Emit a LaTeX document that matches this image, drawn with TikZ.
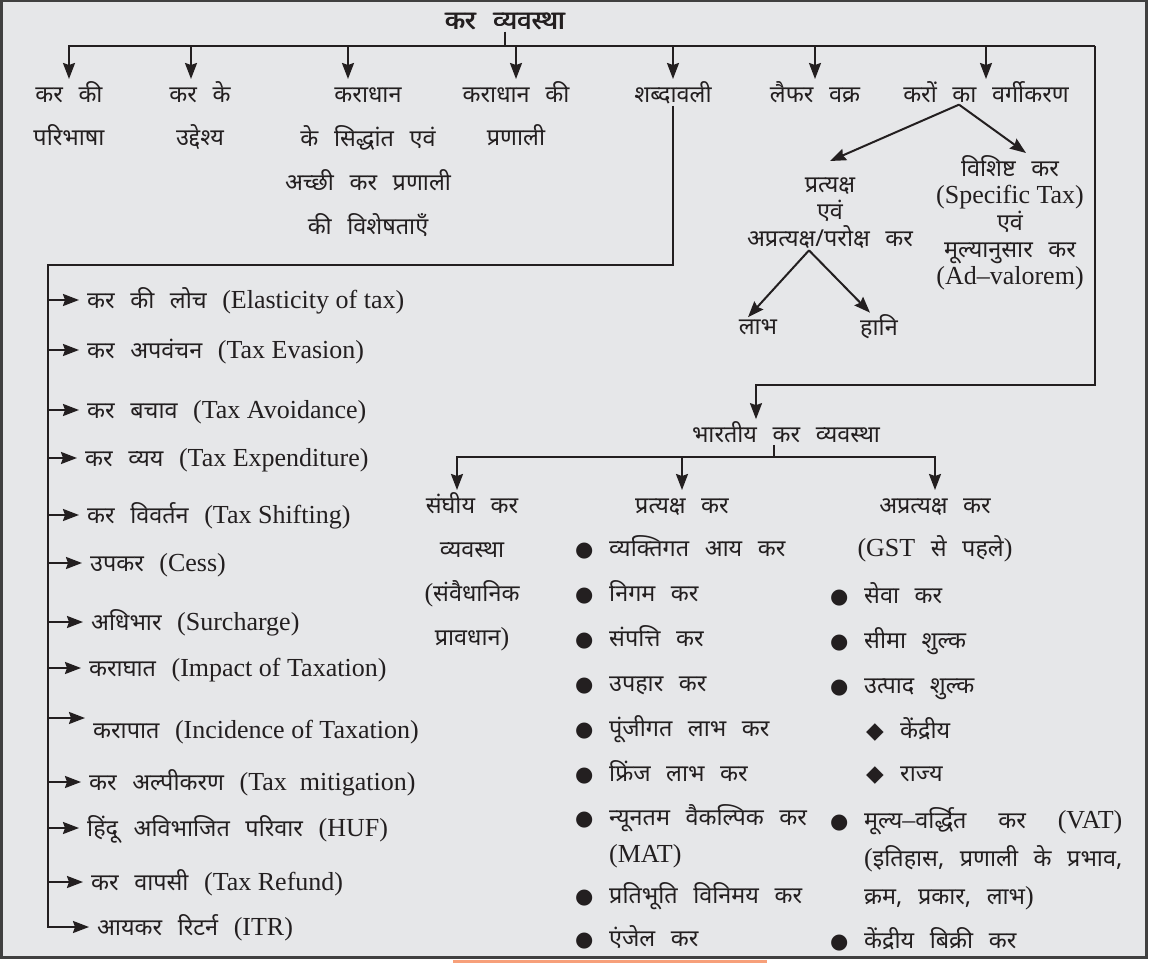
\documentclass[tikz,border=0pt]{standalone}
\usepackage{fontspec}
\setmainfont{Liberation Serif}
\newfontfamily\dev[Script=Devanagari,Scale=0.9,WordSpace=2.56]{Noto Sans}
\newfontfamily\sym{DejaVu Sans}
\usetikzlibrary{arrows.meta}
\definecolor{pagebg}{RGB}{230,231,233}
\definecolor{ink}{RGB}{35,31,32}
\definecolor{stripe}{RGB}{247,160,122}
\newcommand{\en}[1]{{\rmfamily #1}}
\newcommand{\tl}{\vphantom{की}}
\newcommand{\heavy}[1]{\rlap{#1}\kern0.9pt#1}
\newcommand{\blt}{\makebox[34pt][l]{\sym\fontsize{21}{21}\selectfont ●}}
\newcommand{\dmd}{\makebox[34pt][l]{\sym\fontsize{23}{23}\selectfont ◆}}
\tikzset{
  txt/.style={font=\dev\fontsize{26}{43}\selectfont, align=center, inner sep=2pt, text=ink},
  tight/.style={txt, font=\dev\fontsize{26}{27}\selectfont},
  item/.style={font=\dev\fontsize{26}{37}\selectfont, anchor=base west, inner sep=0pt, inner xsep=8pt, text height=20pt, text depth=4pt, text=ink},
  line/.style={draw=ink, line width=2pt},
  arr/.style={line, -{Stealth[length=16pt,width=12pt,inset=2pt]}},
}
\begin{document}
\begin{tikzpicture}[x=1pt,y=-1pt]
\lineskiplimit=-40pt
\useasboundingbox (0,0) rectangle (1149,963);
\fill[white] (0,0) rectangle (1149,963);
\draw[line width=2.5pt, draw=black!75, fill=pagebg] (1.25,1.25) rectangle (1146.5,957.5);
\fill[stripe] (453,960) rectangle (767,963);

\node[txt, font=\dev\fontsize{29}{30}\selectfont] (root) at (505,21) {\heavy{कर व्यवस्था}};
\coordinate (tb) at (505,46);
\coordinate (tbR) at (1095,46);
\coordinate (rbR) at (1095,385);

\node[txt, anchor=north] (d1) at (69,79) {कर की\\परिभाषा};
\node[txt, anchor=north] (d2) at (200,79) {कर के\\उद्देश्य};
\node[txt, font=\dev\fontsize{26}{44}\selectfont, anchor=north] (d3) at (368,79) {\tl कराधान\\के सिद्धांत एवं\\अच्छी कर प्रणाली\\की विशेषताएँ};
\node[txt, anchor=north] (d4) at (516,79) {कराधान की\\प्रणाली};
\node[txt, anchor=north] (d5) at (673,79) {शब्दावली};
\node[txt, anchor=north] (d6) at (815,79) {लैफर वक्र};
\node[txt, anchor=north] (d7) at (986,79) {करों का वर्गीकरण};

\draw[line] (root) -- (tb);
\draw[arr] (tbR) -| (d1.north);
\draw[arr] ([xshift=-9pt]d2.north |- tb) -- ([xshift=-9pt]d2.north);
\draw[arr] ([xshift=-20pt]d3.north |- tb) -- ([xshift=-20pt]d3.north);
\draw[arr] (d4.north |- tb) -- (d4.north);
\draw[arr] (d5.north |- tb) -- (d5.north);
\draw[arr] (d6.north |- tb) -- (d6.north);
\draw[arr] (d7.north |- tb) -- (d7.north);

\node[tight, anchor=north] (c1) at (830,169) {\tl प्रत्यक्ष\\एवं\\अप्रत्यक्ष/परोक्ष कर};
\node[tight, anchor=north] (c2) at (1010,153) {विशिष्ट कर\\\en{(Specific Tax)}\\एवं\\मूल्यानुसार कर\\\en{(Ad--valorem)}};
\node[txt] (h1) at (758,327) {लाभ};
\node[txt] (h2) at (879,327) {हानि};

\draw[arr] ([xshift=-27pt]d7.south) -- ([yshift=8pt]c1.north);
\draw[arr] ([xshift=-27pt]d7.south) -- ([xshift=16pt]c2.north);
\draw[arr] ([xshift=-21pt]c1.south) -- ([xshift=-10pt]h1.north);
\draw[arr] ([xshift=-21pt]c1.south) -- ([xshift=-9pt]h2.north);

\node[txt] (bk) at (786,432) {भारतीय कर व्यवस्था};
\draw[arr] (tbR) -- (rbR) -| ([xshift=-30pt]bk.north);
\coordinate (bb) at (774,457);

\node[txt, font=\dev\fontsize{26}{44}\selectfont, anchor=north] (s1) at (472,490) {संघीय कर\\व्यवस्था\\\en{(}संवैधानिक\\प्रावधान\en{)}};
\node[txt, anchor=north] (s2) at (682,490) {\tl प्रत्यक्ष कर};
\node[txt, anchor=north] (s3) at (935,490) {\tl अप्रत्यक्ष कर\\\en{(GST} से पहले\en{)}};

\draw[line] (bk.south -| bb) -- (bb);
\draw[arr] (bb) -| ([xshift=-15pt]s1.north);
\draw[arr] (bb) -| (s3.north);
\draw[arr] (s2.north |- bb) -- (s2.north);

\node[item] (p1) at (567,556) {\blt व्यक्तिगत आय कर};
\node[item] (p2) at (567,601) {\blt निगम कर};
\node[item] (p3) at (567,646) {\blt संपत्ति कर};
\node[item] (p4) at (567,691) {\blt उपहार कर};
\node[item] (p5) at (567,736) {\blt पूंजीगत लाभ कर};
\node[item] (p6) at (567,781) {\blt फ्रिंज लाभ कर};
\node[item] (p7) at (567,825) {\lineskiplimit=0pt\blt\begin{tabular}[t]{@{}l@{}}न्यूनतम वैकल्पिक कर\\\en{(MAT)}\end{tabular}};
\node[item] (p8) at (567,903) {\blt प्रतिभूति विनिमय कर};
\node[item] (p9) at (567,946) {\blt एंजेल कर};

\node[item] (a1) at (822,603) {\blt सेवा कर};
\node[item] (a2) at (822,648) {\blt सीमा शुल्क};
\node[item] (a3) at (822,693) {\blt उत्पाद शुल्क};
\node[item] (a4) at (858,738) {\dmd केंद्रीय};
\node[item] (a5) at (858,781) {\dmd राज्य};
\node[item, font=\dev\fontsize{26}{38}\selectfont] (a6) at (822,828) {\lineskiplimit=0pt\blt\begin{tabular}[t]{@{}l@{}}मूल्य\en{--}वर्द्धित\hfill कर\hfill\en{(VAT)}\\\en{(}इतिहास, प्रणाली के प्रभाव,\\क्रम, प्रकार, लाभ\en{)}\end{tabular}};
\node[item] (a7) at (822,948) {\blt केंद्रीय बिक्री कर};

\coordinate (lv) at (48,265);
\node[item] (g1) at (79,308) {कर की लोच \en{(Elasticity of tax)}};
\node[item] (g2) at (79,358) {कर अपवंचन \en{(Tax Evasion)}};
\node[item] (g3) at (79,418) {कर बचाव \en{(Tax Avoidance)}};
\node[item] (g4) at (77,466) {कर व्यय \en{(Tax Expenditure)}};
\node[item] (g5) at (79,523) {कर विवर्तन \en{(Tax Shifting)}};
\node[item] (g6) at (82,571) {उपकर \en{(Cess)}};
\node[item] (g7) at (83,630) {अधिभार \en{(Surcharge)}};
\node[item] (g8) at (81,676) {कराघात \en{(Impact of Taxation)}};
\node[item] (g9) at (85,738) {करापात \en{(Incidence of Taxation)}};
\node[item] (g10) at (81,790) {कर अल्पीकरण \en{(Tax\ \ mitigation)}};
\node[item] (g11) at (79,836) {हिंदू अविभाजित परिवार \en{(HUF)}};
\node[item] (g12) at (83,890) {कर वापसी \en{(Tax Refund)}};
\node[item] (g13) at (89,935) {आयकर रिटर्न \en{(ITR)}};
\coordinate (g9a) at ([yshift=12pt]g9.west);

\draw[arr] (d5.south) |- (lv) |- (g13.west);
\draw[arr] (lv |- g1.west) -- (g1.west);
\draw[arr] (lv |- g2.west) -- (g2.west);
\draw[arr] (lv |- g3.west) -- (g3.west);
\draw[arr] (lv |- g4.west) -- (g4.west);
\draw[arr] (lv |- g5.west) -- (g5.west);
\draw[arr] (lv |- g6.west) -- (g6.west);
\draw[arr] (lv |- g7.west) -- (g7.west);
\draw[arr] (lv |- g8.west) -- (g8.west);
\draw[arr] (lv |- g9a) -- (g9a);
\draw[arr] (lv |- g10.west) -- (g10.west);
\draw[arr] (lv |- g11.west) -- (g11.west);
\draw[arr] (lv |- g12.west) -- (g12.west);
\end{tikzpicture}
\end{document}
